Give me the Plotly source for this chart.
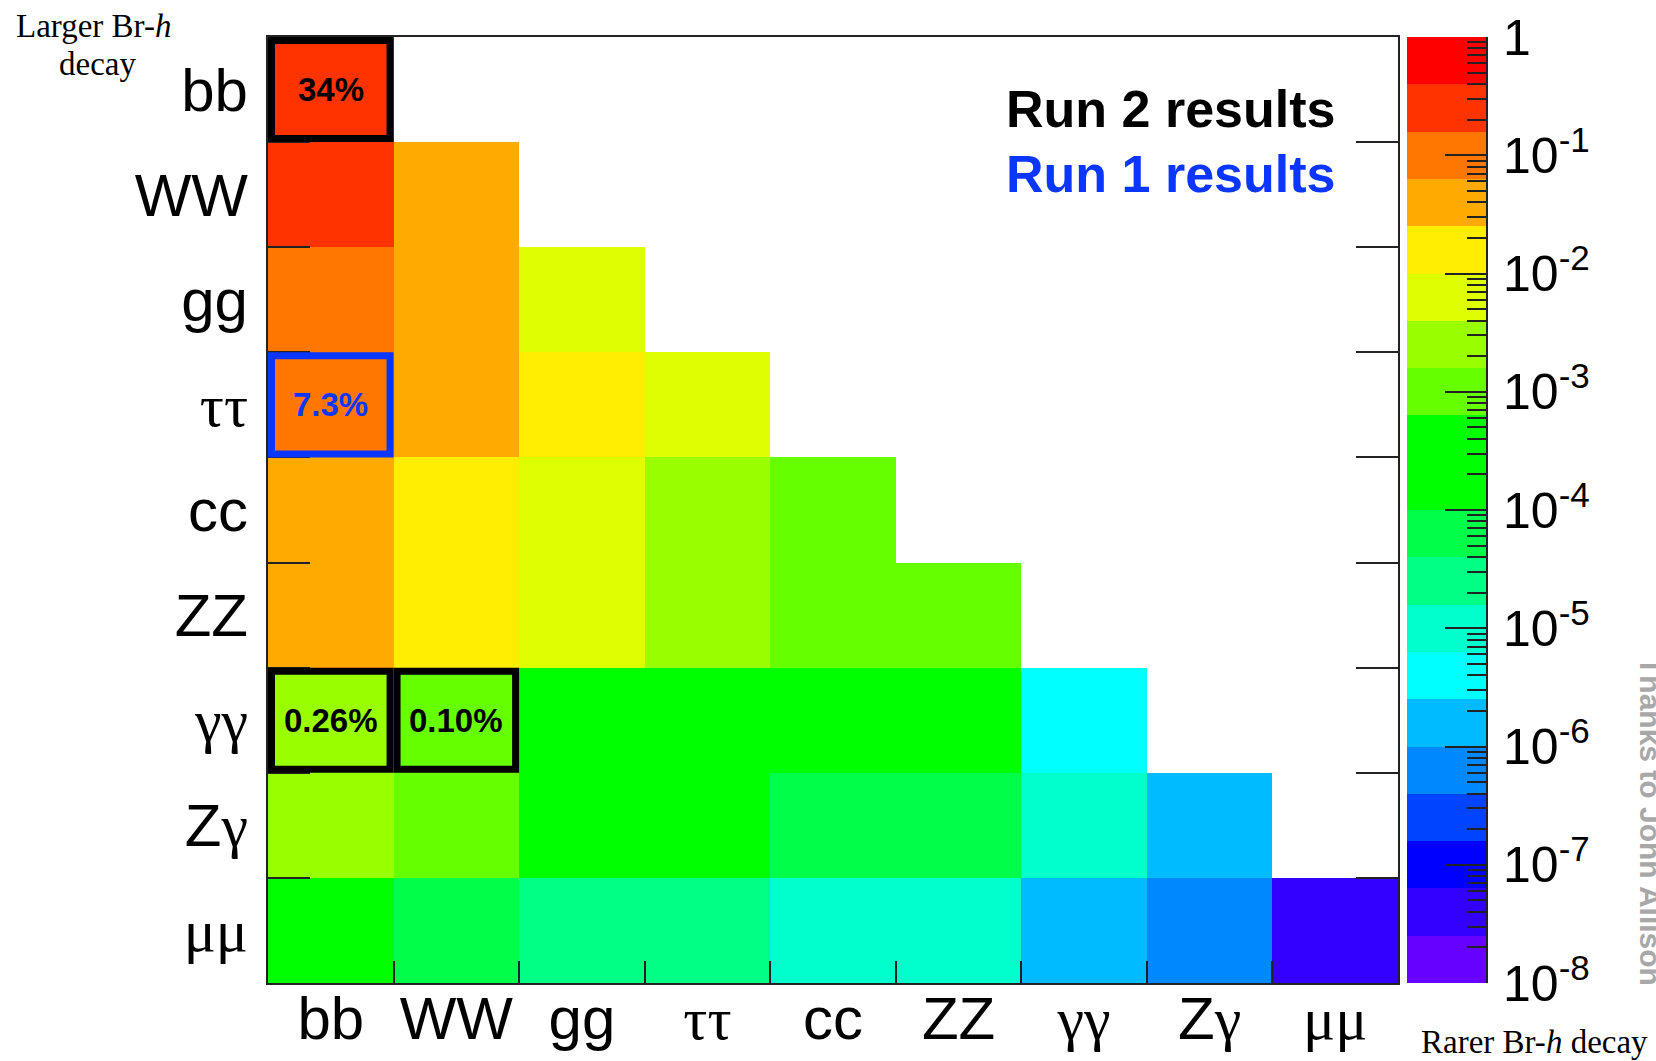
import numpy as np
import plotly.graph_objects as go

# ---------------- data ----------------
decays = ["bb", "WW", "gg", "ττ", "cc", "ZZ", "γγ", "Zγ", "μμ"]

# di-Higgs branching fraction, row = larger-BR decay, column = rarer decay
row_bb = [0.34]
row_WW = [0.25, 0.046]
row_gg = [0.099, 0.037, 0.0073]
row_tautau = [0.073, 0.027, 0.011, 0.0041]
row_cc = [0.034, 0.0125, 0.0050, 0.0036, 0.00084]
row_ZZ = [0.031, 0.0114, 0.0045, 0.0033, 0.0015, 0.00070]
row_gamgam = [0.0026, 0.00098, 0.00039, 0.00029, 0.00013, 0.00012, 5.2e-6]
row_Zgam = [0.0018, 0.00066, 0.00026, 0.00019, 8.9e-5, 8.1e-5, 7.0e-6, 2.4e-6]
row_mumu = [0.00026, 9.4e-5, 3.7e-5, 2.7e-5, 1.26e-5, 1.15e-5, 1.05e-6, 6.7e-7, 4.8e-8]
rows = [row_bb, row_WW, row_gg, row_tautau, row_cc, row_ZZ, row_gamgam, row_Zgam, row_mumu]

# highlighted measurements: (row decay, column decay, label)
run2_cells = [("bb", "bb", "34%"), ("γγ", "bb", "0.26%"), ("γγ", "WW", "0.10%")]
run1_cells = [("ττ", "bb", "7.3%")]

# colour-bar decades and palette (bottom -> top, 20 bands)
cbar_decades = [-8, -7, -6, -5, -4, -3, -2, -1, 0]
palette = ["#6600FF", "#3300FF", "#0000FF", "#0044FF", "#0088FF", "#00BBFF",
           "#00FFFF", "#00FFCC", "#00FF84", "#00FF48", "#00FF00", "#00FF00",
           "#66FF00", "#99FF00", "#DDFF00", "#FFEE00", "#FFAA00", "#FF7700",
           "#FF3300", "#FF0000"]

# ---------------- layout constants ----------------
W, H = 1656, 1061
PX0, PX1, PY0, PY1 = 268, 1398, 37, 983      # main plot area (pixels)
CX0, CX1 = 1407, 1486                          # colour bar (pixels)
SANS = "Liberation Sans"
SERIF = "Liberation Serif"
BLUE = "#0A36FF"
AXC = "#222222"

n = len(decays)
zmin, zmax = cbar_decades[0], cbar_decades[-1]
nb = len(palette)

cs = []
for k, c in enumerate(palette):
    cs.append([k / nb, c])
    cs.append([(k + 1) / nb, c])

z = [[(np.log10(r[j]) if j < len(r) else None) for j in range(n)] for r in rows]


def label_html(s):
    out = ""
    for ch in s:
        if ch in "τγμ":
            out += f'<span style="font-family:{SERIF}">{ch}</span>'
        else:
            out += ch
    return out


labels = [label_html(d) for d in decays]

fig = go.Figure()
fig.add_trace(go.Heatmap(
    x=list(range(n)), y=list(range(n)), z=z,
    colorscale=cs, zmin=zmin, zmax=zmax, showscale=False,
    hoverinfo="skip", xaxis="x", yaxis="y"))

# colour bar drawn as its own heatmap on a log10 axis
edges = np.linspace(zmin, zmax, nb + 1)
centers = (edges[:-1] + edges[1:]) / 2
fig.add_trace(go.Heatmap(
    x=[0, 1], y=list(edges), z=[[c] for c in centers],
    colorscale=cs, zmin=zmin, zmax=zmax, showscale=False,
    hoverinfo="skip", xaxis="x2", yaxis="y2"))

bounds = [i + 0.5 for i in range(n - 1)]
minor_log = [d + np.log10(m) for d in cbar_decades[:-1] for m in range(2, 10)]
cb_text = ["1" if d == 0 else f"10<sup>{d}</sup>" for d in cbar_decades]

ydom = [1 - PY1 / H, 1 - PY0 / H]
fig.update_layout(
    width=W, height=H, margin=dict(l=0, r=0, t=0, b=0, autoexpand=False),
    paper_bgcolor="white", plot_bgcolor="white", showlegend=False,
    xaxis=dict(domain=[PX0 / W, PX1 / W], range=[-0.5, n - 0.5], anchor="y",
               automargin=False,
               tickmode="array", tickvals=list(range(n)), ticktext=labels,
               ticks="", tickfont=dict(family=SANS, size=60, color="black"),
               ticklabelstandoff=-18,
               showline=True, linecolor=AXC, linewidth=2, mirror=True,
               showgrid=False, zeroline=False,
               minor=dict(tickmode="array", tickvals=bounds, ticks="inside",
                          ticklen=22, tickwidth=2, tickcolor=AXC, showgrid=False)),
    yaxis=dict(domain=ydom, range=[n - 0.5, -0.5], anchor="x",
               automargin=False,
               tickmode="array", tickvals=list(range(n)), ticktext=labels,
               ticks="", tickfont=dict(family=SANS, size=60, color="black"),
               ticklabelstandoff=6,
               showline=True, linecolor=AXC, linewidth=2, mirror="ticks",
               showgrid=False, zeroline=False,
               minor=dict(tickmode="array", tickvals=bounds, ticks="inside",
                          ticklen=42, tickwidth=2, tickcolor=AXC, showgrid=False)),
    xaxis2=dict(domain=[CX0 / W, CX1 / W], range=[0, 1], anchor="y2",
                automargin=False,
                visible=False, showgrid=False, zeroline=False),
    yaxis2=dict(domain=ydom, range=[zmin, zmax], anchor="x2", side="right",
                automargin=False,
                tickmode="array", tickvals=cbar_decades, ticktext=cb_text,
                ticks="inside", ticklen=41, tickwidth=2, tickcolor=AXC,
                tickfont=dict(family=SANS, size=50, color="black"),
                ticklabelstandoff=5,
                showline=True, linecolor=AXC, linewidth=2,
                showgrid=False, zeroline=False,
                minor=dict(tickmode="array", tickvals=minor_log, ticks="inside",
                           ticklen=19, tickwidth=2, tickcolor=AXC, showgrid=False)),
)

# highlight boxes and percentages
ux = (PX1 - PX0) / n
uy = (PY1 - PY0) / n
lw = 7
ix, iy = (lw / 2) / ux, (lw / 2) / uy
for cells, col in [(run2_cells, "black"), (run1_cells, BLUE)]:
    for rname, cname, txt in cells:
        r, c = decays.index(rname), decays.index(cname)
        fig.add_shape(type="rect", xref="x", yref="y",
                      x0=c - 0.5 + ix, x1=c + 0.5 - ix,
                      y0=r - 0.5 + iy, y1=r + 0.5 - iy,
                      line=dict(color=col, width=lw), fillcolor="rgba(0,0,0,0)")
        fig.add_annotation(x=c, y=r, xref="x", yref="y", text=f"<b>{txt}</b>",
                           showarrow=False,
                           font=dict(family=SANS, size=33, color=col))


def pa(text, x, y, size, family, color="black", xanchor="center", angle=0):
    fig.add_annotation(x=x / W, y=1 - y / H, xref="paper", yref="paper",
                       text=text, showarrow=False, xanchor=xanchor,
                       yanchor="middle", textangle=angle,
                       font=dict(family=family, size=size, color=color))


pa("Larger Br-<i>h</i>", 93, 26, 33, SERIF)
pa("decay", 97, 64, 33, SERIF)
pa("Rarer Br-<i>h</i> decay", 1534, 1042, 33, SERIF)
pa("<b>Run 2 results</b>", 1337, 109, 52, SANS, xanchor="right")
pa("<b>Run 1 results</b>", 1337, 174, 52, SANS, color=BLUE, xanchor="right")
pa("<b>Thanks to John Allison</b>", 1651, 821, 30, SANS, color="#A8A8A8", angle=90)

fig.write_html("out.html")
